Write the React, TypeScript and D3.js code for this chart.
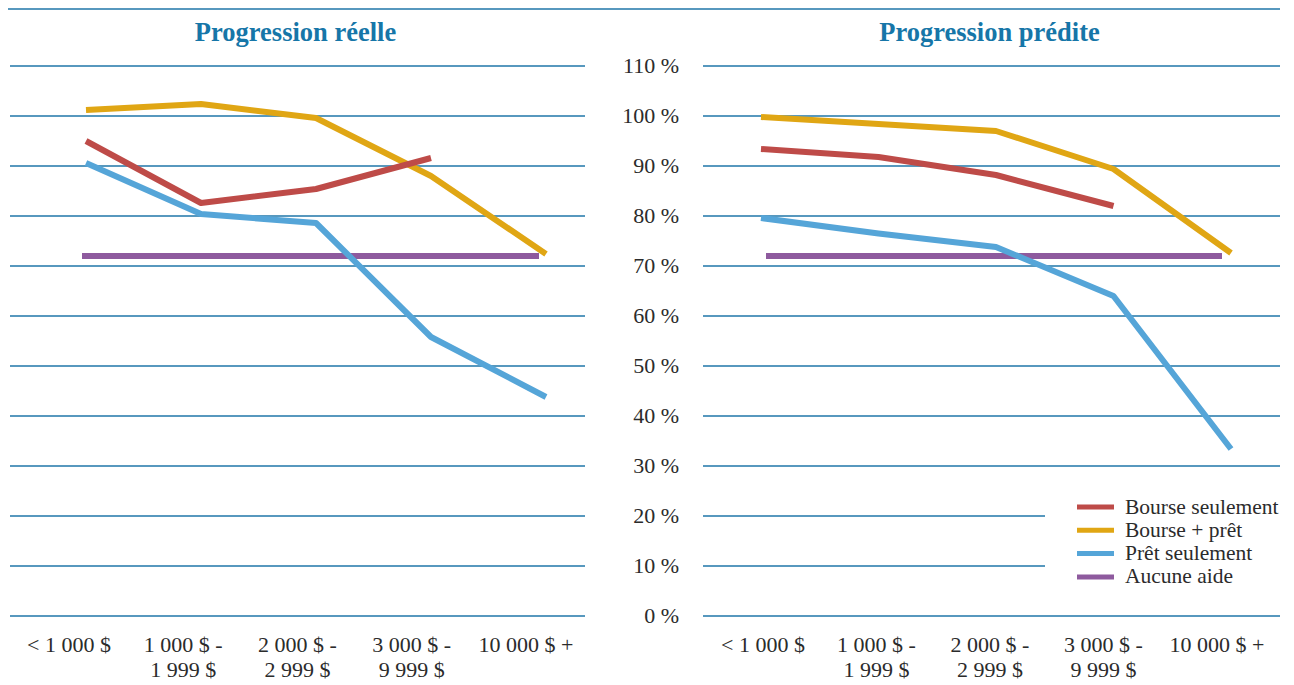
import React from "react";
import * as d3 from "d3";

const categories: string[][] = [
  ["< 1 000 $"],
  ["1 000 $ -", "1 999 $"],
  ["2 000 $ -", "2 999 $"],
  ["3 000 $ -", "9 999 $"],
  ["10 000 $ +"],
];
const yTicks = [0, 10, 20, 30, 40, 50, 60, 70, 80, 90, 100, 110];
const seriesNames = ["Bourse seulement", "Bourse + prêt", "Prêt seulement", "Aucune aide"];
const seriesColors = ["#BE4B48", "#E0A614", "#55A5D8", "#8E5A9E"];

const reelleBourse: (number | null)[] = [95, 82.6, 85.4, 91.6, null];
const reelleBoursePret: (number | null)[] = [101.2, 102.4, 99.6, 88, 72.4];
const reellePret: (number | null)[] = [90.6, 80.4, 78.6, 55.8, 43.8];
const reelleAucune: (number | null)[] = [72, 72, 72, 72, 72];

const preditBourse: (number | null)[] = [93.4, 91.8, 88.2, 82, null];
const preditBoursePret: (number | null)[] = [99.8, 98.4, 97, 89.4, 72.6];
const preditPret: (number | null)[] = [79.6, 76.5, 73.8, 64, 33.4];
const preditAucune: (number | null)[] = [72, 72, 72, 72, 72];

const GRID = "#1F76A8";
const TEXT = "#2b2b2b";
const TITLE = "#1676A8";
const FONT = "'Liberation Serif', 'Times New Roman', serif";

const y = d3.scaleLinear().domain([0, 110]).range([616, 66]);
const idx = categories.map((_, i) => String(i));

type Panel = {
  title: string;
  x0: number;
  x1: number;
  dataRange: [number, number];
  flatRange: [number, number];
  labelRange: [number, number];
  series: (number | null)[][];
};

const panels: Panel[] = [
  {
    title: "Progression réelle",
    x0: 10,
    x1: 585,
    dataRange: [86, 546],
    flatRange: [82, 539],
    labelRange: [69, 526],
    series: [reelleBourse, reelleBoursePret, reellePret, reelleAucune],
  },
  {
    title: "Progression prédite",
    x0: 703,
    x1: 1280,
    dataRange: [761, 1231],
    flatRange: [766, 1222],
    labelRange: [763, 1217],
    series: [preditBourse, preditBoursePret, preditPret, preditAucune],
  },
];

export default function App() {
  return (
    <svg
      width={1294}
      height={685}
      style={{ position: "absolute", left: 0, top: 0, background: "#fff" }}
      fontFamily={FONT}
    >
      <line x1={8} x2={1280} y1={9} y2={9} stroke={GRID} strokeWidth={1.3} />
      {panels.map((p, pi) => {
        const xd = d3.scalePoint<string>().domain(idx).range(p.dataRange);
        const xf = d3.scalePoint<string>().domain(idx).range(p.flatRange);
        const xl = d3.scalePoint<string>().domain(idx).range(p.labelRange);
        const mkLine = (sc: d3.ScalePoint<string>) =>
          d3
            .line<number | null>()
            .defined((d) => d !== null)
            .x((_, i) => sc(String(i)) as number)
            .y((d) => y(d as number));
        return (
          <g key={pi}>
            {yTicks.map((t) => (
              <line
                key={t}
                x1={p.x0}
                x2={pi === 1 && (t === 10 || t === 20) ? 1045 : p.x1}
                y1={y(t)}
                y2={y(t)}
                stroke={GRID}
                strokeWidth={1.3}
              />
            ))}
            <text
              x={(p.x0 + p.x1) / 2 - 2}
              y={41}
              textAnchor="middle"
              fontWeight="bold"
              fontSize={26.5}
              fill={TITLE}
            >
              {p.title}
            </text>
            {categories.map((c, i) => (
              <text key={i} x={xl(String(i))} y={652} textAnchor="middle" fontSize={22} fill={TEXT}>
                {c.map((l, j) => (
                  <tspan key={j} x={xl(String(i))} dy={j === 0 ? 0 : 25}>
                    {l}
                  </tspan>
                ))}
              </text>
            ))}
            {p.series
              .map((s, si) => ({ s, si }))
              .reverse()
              .map(({ s, si }) => (
                <path
                  key={si}
                  d={mkLine(si === 3 ? xf : xd)(s) || ""}
                  fill="none"
                  stroke={seriesColors[si]}
                  strokeWidth={6}
                  strokeLinejoin="round"
                />
              ))}
          </g>
        );
      })}
      {yTicks.map((t) => (
        <text key={t} x={679} y={y(t) + 7} textAnchor="end" fontSize={22} fill={TEXT}>
          {`${t} %`}
        </text>
      ))}
      <g>
        {seriesNames.map((n, i) => {
          const cy = 507 + i * 23.3;
          return (
            <g key={n}>
              <line x1={1077} x2={1114} y1={cy} y2={cy} stroke={seriesColors[i]} strokeWidth={5} />
              <text x={1125} y={cy + 6.5} fontSize={21.5} fill={TEXT}>
                {n}
              </text>
            </g>
          );
        })}
      </g>
    </svg>
  );
}
